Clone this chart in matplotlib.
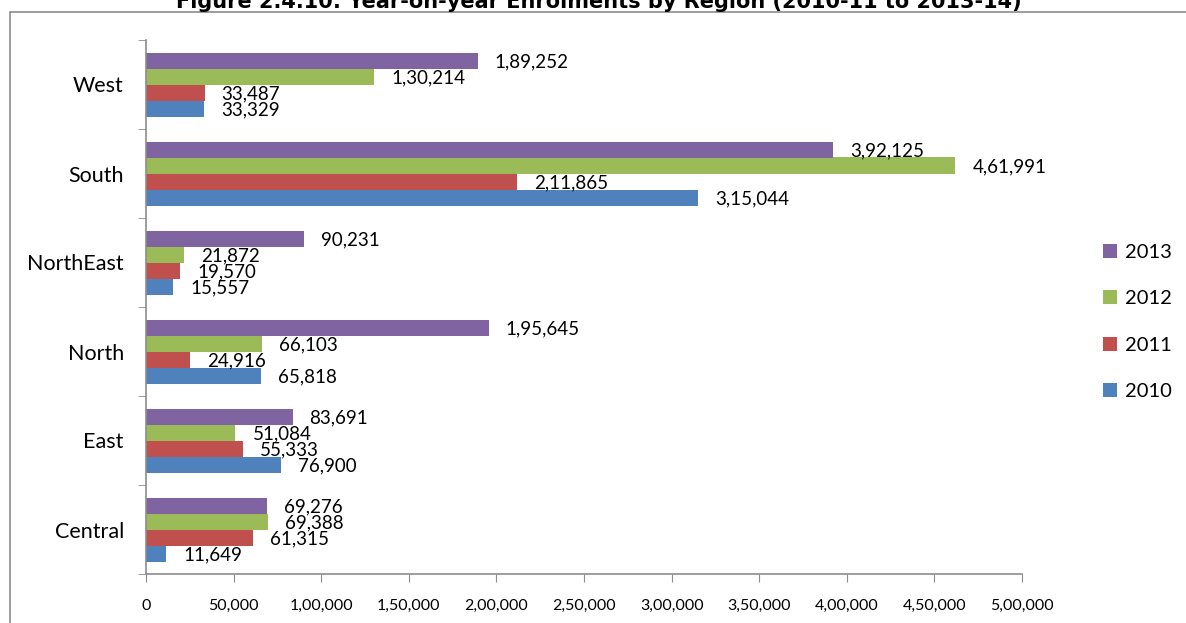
import numpy as np
import matplotlib
matplotlib.use('Agg')
import matplotlib.pyplot as plt
from matplotlib.patches import Rectangle, Patch

# enrolments per region, one list per academic year
regions = ['Central', 'East', 'North', 'NorthEast', 'South', 'West']
years = ['2010', '2011', '2012', '2013']
y2010 = [11649, 76900, 65818, 15557, 315044, 33329]
y2011 = [61315, 55333, 24916, 19570, 211865, 33487]
y2012 = [69388, 51084, 66103, 21872, 461991, 130214]
y2013 = [69276, 83691, 195645, 90231, 392125, 189252]
xticks = [0, 50000, 100000, 150000, 200000, 250000, 300000, 350000, 400000, 450000, 500000]
colors = ['#4F81BD', '#C0504D', '#9BBB59', '#8064A2']
title = 'Figure 2.4.10: Year-on-year Enrolments by Region (2010-11 to 2013-14)'

plt.rcParams['font.family'] = ['Lato', 'DejaVu Sans']


def indian(n):
    # lakh-style digit grouping: 1,89,252
    s = str(int(n))
    if len(s) <= 3:
        return s
    head, tail = s[:-3], s[-3:]
    parts = []
    while len(head) > 2:
        parts.insert(0, head[-2:])
        head = head[:-2]
    if head:
        parts.insert(0, head)
    return ','.join(parts + [tail])


fig = plt.figure(figsize=(11.86, 6.23), dpi=100)
W, H = 1186, 623
ax = fig.add_axes([146 / W, 1 - 574 / H, (1022 - 146) / W, (574 - 40) / H])

# outer chart border
fig.patches.append(Rectangle((10 / W, -0.1), 1.2, 1 - 12 / H + 0.1, transform=fig.transFigure,
                             fill=False, edgecolor='#8c8c8c', linewidth=1.2))
fig.text(0.505, 1 - 8 / H, title, ha='center', va='baseline', fontsize=15,
         fontweight='bold', family='DejaVu Sans')

bh = 16 / 89
ypos = np.arange(len(regions))
series = [y2010, y2011, y2012, y2013]
for i, (vals, c) in enumerate(zip(series, colors)):
    yy = ypos + (i - 1.5) * bh
    ax.barh(yy, vals, height=bh, color=c, edgecolor='none')
    for y, v in zip(yy, vals):
        ax.text(v + 9700, y - 0.015, indian(v), va='center', ha='left', fontsize=13.5)

ax.set_xlim(0, 500000)
ax.set_ylim(-0.5, 5.5)
ax.set_xticks(xticks)
ax.set_xticklabels([indian(t) for t in xticks], fontsize=11.5)
ax.set_yticks(ypos)
ax.set_yticklabels(regions, fontsize=15.5)
ax.set_yticks(np.arange(-0.5, 6, 1), minor=True)
ax.tick_params(axis='y', which='major', length=0, pad=16)
ax.tick_params(axis='y', which='minor', length=6, color='#8c8c8c', direction='out')
ax.tick_params(axis='x', length=6, color='#8c8c8c', direction='out', pad=12)
for s in ['top', 'right']:
    ax.spines[s].set_visible(False)
for s in ['left', 'bottom']:
    ax.spines[s].set_color('#8c8c8c')
    ax.spines[s].set_linewidth(1.2)

handles = [Patch(facecolor=c, edgecolor='none') for c in colors[::-1]]
fig.legend(handles, years[::-1], loc='upper left', bbox_to_anchor=(1093 / W, 1 - 234 / H),
           frameon=False, fontsize=14.5, handlelength=0.7, handleheight=0.7,
           handletextpad=0.4, labelspacing=1.45, borderpad=0)

fig.savefig('out.png', dpi=100)
